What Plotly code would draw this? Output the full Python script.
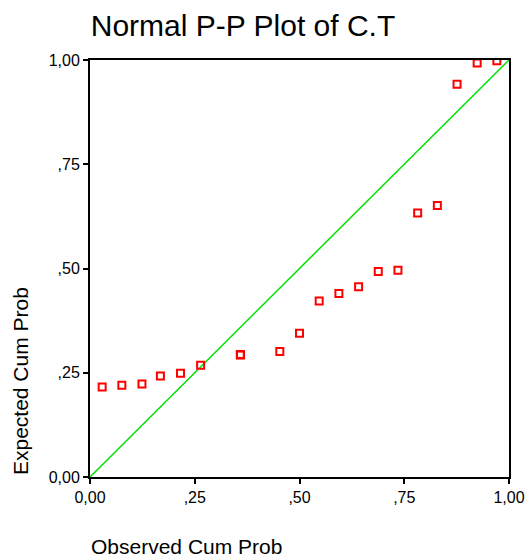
import plotly.graph_objects as go

# Normal P-P plot: observed vs expected cumulative probabilities for C.T
observed_cum_prob = [0.029, 0.076, 0.124, 0.168, 0.216, 0.264, 0.359, 0.359, 0.359,
                     0.453, 0.500, 0.547, 0.594, 0.641, 0.688, 0.735, 0.782,
                     0.829, 0.876, 0.924, 0.971]
expected_cum_prob = [0.216, 0.220, 0.223, 0.242, 0.249, 0.268, 0.293, 0.293, 0.293,
                     0.301, 0.345, 0.422, 0.440, 0.456, 0.493, 0.496, 0.633,
                     0.651, 0.942, 0.993, 0.998]

tick_vals = [0, 0.25, 0.5, 0.75, 1.0]
tick_text = ["0,00", ",25", ",50", ",75", "1,00"]
reference_line = [0, 1]

FONT = "Liberation Sans, Arial, sans-serif"

fig = go.Figure()

fig.add_trace(go.Scatter(
    x=reference_line, y=reference_line, mode="lines",
    line=dict(color="#00e000", width=1.5), hoverinfo="skip", showlegend=False,
))

fig.add_trace(go.Scatter(
    x=observed_cum_prob, y=expected_cum_prob, mode="markers",
    marker=dict(symbol="square-open", size=7, color="#ff0000",
                line=dict(width=2, color="#ff0000")),
    showlegend=False,
))

axis_common = dict(
    range=[0, 1], tickvals=tick_vals, ticktext=tick_text, automargin=False,
    showgrid=False, zeroline=False, showline=True, linecolor="black",
    linewidth=2, mirror=True, ticks="outside", ticklen=5, tickwidth=1.5,
    tickcolor="black", tickfont=dict(family=FONT, size=16, color="black"),
)

fig.update_layout(
    width=526, height=558,
    margin=dict(l=90, r=17, t=60, b=81),
    paper_bgcolor="white", plot_bgcolor="white",
    xaxis=axis_common, yaxis=axis_common,
    title=dict(text="Normal P-P Plot of C.T", x=243 / 526, xref="container",
               xanchor="center", y=1 - 25 / 558, yref="container",
               yanchor="middle", font=dict(family=FONT, size=30, color="black")),
    annotations=[
        dict(text="Observed Cum Prob", xref="paper", yref="paper",
             x=-0.003, y=-0.166, xanchor="left", yanchor="middle",
             showarrow=False, font=dict(family=FONT, size=21, color="black")),
        dict(text="Expected Cum Prob", xref="paper", yref="paper",
             x=-0.167, y=0.0, xanchor="center", yanchor="bottom", textangle=-90,
             showarrow=False, font=dict(family=FONT, size=21, color="black")),
    ],
)

fig.write_html("out.html")
